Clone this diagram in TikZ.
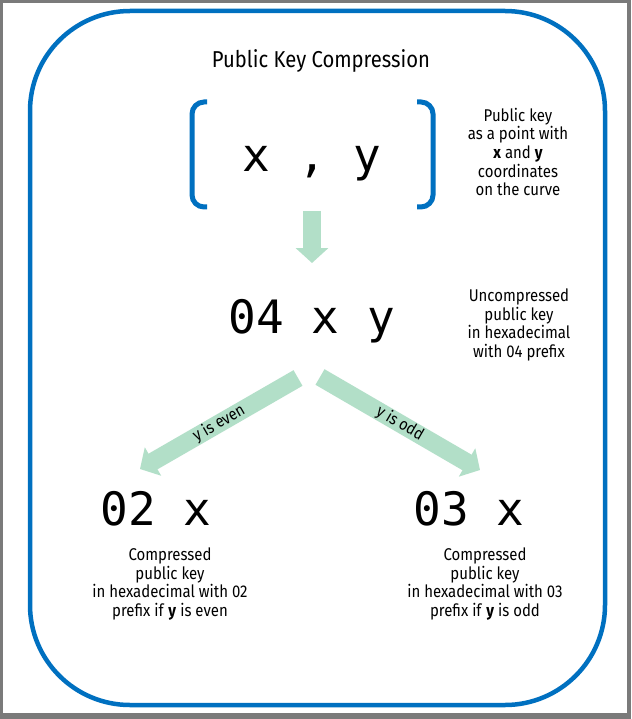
\documentclass[tikz,border=0pt]{standalone}
\usepackage{fontspec}
\setmainfont{Fira Sans}[FakeStretch=0.88]
\newfontfamily\keyfont{DejaVu Sans Mono}
\usetikzlibrary{arrows.meta}

\definecolor{keyblue}{RGB}{0,112,192}
\definecolor{flowgreen}{RGB}{178,223,200}
\definecolor{framegrey}{RGB}{122,122,122}

\tikzset{
  keytext/.style={font=\keyfont\fontsize{46}{50}\selectfont, inner sep=0pt, anchor=base},
  note/.style={align=center, font=\fontsize{17}{18.7}\selectfont, inner sep=0pt},
  flowarrow/.style={draw=flowgreen, line width=18pt, -{Triangle[length=15pt,width=32pt]}},
  armlabel/.style={font=\fontsize{16.5}{18}\selectfont, inner sep=0pt, midway, sloped},
  keybracket/.style={draw=keyblue, line width=5pt, rounded corners=12pt},
}

\begin{document}
\begin{tikzpicture}[x=1pt,y=-1pt]
  %%%%% frame %%%%%
  \fill[framegrey] (0,0) rectangle (631,719);
  \fill[white] (3,3) rectangle (627,713);
  \useasboundingbox (0,0) rectangle (631,719);
  \draw[keyblue, line width=4.5pt, rounded corners=100pt] (30,11) rectangle (605,705);

  \node[font=\fontsize{23}{27}\selectfont, anchor=base] (title) at (321,68) {Public Key Compression};

  %%%%% the point %%%%%
  \draw[keybracket] (207,102) -- (192,102) -- (192,207) -- (207,207);
  \draw[keybracket] (417,102) -- (433,102) -- (433,207) -- (417,207);
  \node[keytext] (point) at (312,172) {x , y};
  \node[note] (pointnote) at (518,152) {Public key\\as a point with\\\textbf{x} and \textbf{y}\\coordinates\\on the curve};

  %%%%% uncompressed %%%%%
  \node[keytext] (uncomp) at (312,333) {04 x y};
  \node[note] (uncompnote) at (519,325) {Uncompressed\\public key\\in hexadecimal\\with 04 prefix};

  %%%%% compressed %%%%%
  \node[keytext] (even) at (156,525) {02 x};
  \node[keytext] (odd) at (469,525) {03 x};
  \node[note] (evennote) at (170,584) {Compressed\\public key\\in hexadecimal with 02\\prefix if \textbf{y} is even};
  \node[note] (oddnote) at (485,584) {Compressed\\public key\\in hexadecimal with 03\\prefix if \textbf{y} is odd};

  %%%%% arrows %%%%%
  \coordinate (downtail) at (312,211);
  \coordinate (downtip) at (312,263);
  \coordinate (eventail) at (298,378);
  \coordinate (eventip) at (140,469);
  \coordinate (oddtail) at (320,377);
  \coordinate (oddtip) at (480,470);

  \draw[flowarrow] (downtail) -- (downtip);
  \draw[flowarrow] (eventail) -- (eventip) node[armlabel] (evenlabel) {y is even};
  \draw[flowarrow] (oddtail) -- (oddtip) node[armlabel] (oddlabel) {y is odd};
\end{tikzpicture}
\end{document}
